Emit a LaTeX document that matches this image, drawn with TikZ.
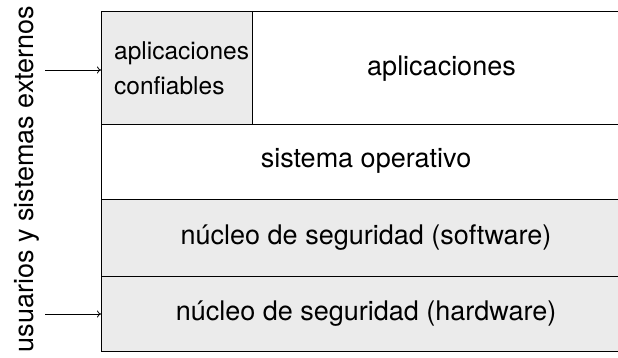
\documentclass[tikz,border=0pt]{standalone}
\usepackage{fontspec}
\setmainfont{TeX Gyre Heros}
\usetikzlibrary{arrows.meta}
\definecolor{boxgray}{RGB}{235,235,235}
\begin{document}
\begin{tikzpicture}[x=1pt,y=-1pt,
  layer/.style={draw=black, line width=1pt, rectangle, inner sep=0pt, outer sep=0pt},
  big/.style={font=\fontsize{27}{32}\selectfont, inner sep=0pt},
  small/.style={font=\fontsize{24.5}{35}\selectfont, inner sep=0pt},
  arr/.style={-{To[length=4pt,width=7pt]}, line width=0.8pt}]
\useasboundingbox (0,0) rectangle (618,358);
\begin{scope}
\clip (0,0) rectangle (618,358);
\node[layer, fill=boxgray, minimum width=151, minimum height=113] (trusted) at (176.5,68.5) {};
\node[layer, fill=white, minimum width=379, minimum height=113] (apps) at (441.5,68.5) {};
\node[layer, fill=white, minimum width=530, minimum height=75] (os) at (366,162.5) {};
\node[layer, fill=boxgray, minimum width=530, minimum height=76] (kersw) at (366,238) {};
\node[layer, fill=boxgray, minimum width=530, minimum height=75] (kerhw) at (366,313.5) {};
\end{scope}
\node[small, anchor=base west] (t1) at (114,60) {aplicaciones};
\node[small, anchor=base west] (t2) at (114,95) {confiables};
\node[big, anchor=base] (tapps) at (441.5,76) {aplicaciones};
\node[big, anchor=base] (tos) at (366,168) {sistema operativo};
\node[big, anchor=base] (tsw) at (366,244) {núcleo de seguridad (software)};
\node[big, anchor=base] (thw) at (366,320) {núcleo de seguridad (hardware)};
\node[big, anchor=base, rotate=90] (users) at (33,179) {usuarios y sistemas externos};
\coordinate (a1) at (45,70);
\coordinate (a2) at (45,314);
\draw[arr] (a1) -- (a1 -| trusted.west);
\draw[arr] (a2) -- (a2 -| kerhw.west);
\end{tikzpicture}
\end{document}
